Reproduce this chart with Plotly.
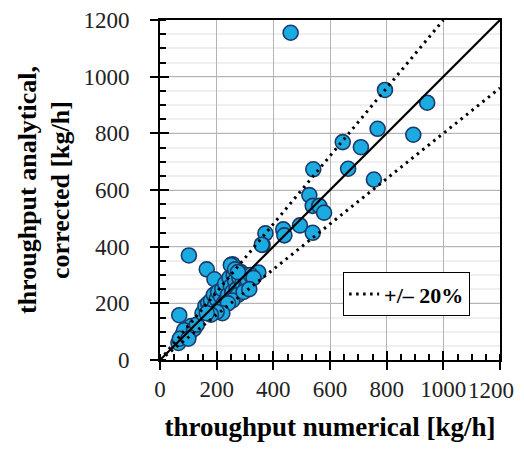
import plotly.graph_objects as go

# numerical throughput [kg/h]
x_num = [461, 794, 943, 768, 894, 645, 709, 541, 664, 755, 527, 539, 562, 579,
         494, 435, 439, 372, 539, 362, 102, 165, 256, 192, 68, 359, 347,
         65, 75, 80, 90, 95, 100, 105, 110, 85, 70, 120, 130, 100,
         150, 160, 170, 175, 180, 185, 190, 195, 200, 205, 210, 215, 220, 225,
         230, 235, 240, 245, 250, 255, 260, 265, 270, 275, 280, 285, 290, 300,
         305, 310, 320, 330, 250, 255, 265, 275, 240, 220, 200, 180, 165, 295, 315]
# analytical throughput, corrected [kg/h]
y_ana = [1155, 953, 908, 816, 795, 769, 751, 673, 675, 637, 582, 544, 544, 520,
         475, 461, 440, 447, 449, 406, 369, 320, 338, 285, 158, 407, 309,
         60, 80, 90, 85, 100, 110, 95, 120, 105, 75, 110, 125, 75,
         165, 190, 200, 180, 210, 175, 230, 195, 215, 240, 180, 225, 250, 200,
         270, 215, 230, 290, 260, 240, 300, 280, 250, 230, 290, 310, 270, 300,
         260, 280, 300, 290, 335, 210, 320, 310, 200, 165, 170, 160, 165, 240, 250]

diag = [0, 1200]
upper_x = [0, 1000]
upper_y = [0, 1200]
lower_x = [0, 1200]
lower_y = [0, 960]
ticks = [0, 200, 400, 600, 800, 1000, 1200]
x_ticktext = ["0", "200", "400", "600", "800", "1000", ""]
last_x_label = "1200"

FONT = "Liberation Serif"

fig = go.Figure()
fig.add_trace(go.Scatter(
    x=x_num, y=y_ana, mode="markers", showlegend=False,
    marker=dict(size=15, color="#1aace0", line=dict(color="#1b3a6b", width=1.6)),
))
fig.add_trace(go.Scatter(
    x=upper_x, y=upper_y, mode="lines", name="<b>+/– 20%</b>", legendgroup="pm",
    line=dict(color="black", width=3, dash="2.5px,4.5px"),
))
fig.add_trace(go.Scatter(
    x=lower_x, y=lower_y, mode="lines", showlegend=False, legendgroup="pm",
    line=dict(color="black", width=3, dash="2.5px,4.5px"),
))
fig.add_trace(go.Scatter(
    x=diag, y=diag, mode="lines", showlegend=False,
    line=dict(color="black", width=2.2),
))
# invisible trace for tick overlay axes
fig.add_trace(go.Scatter(x=[0], y=[0], xaxis="x2", yaxis="y2", mode="markers",
                         marker=dict(opacity=0), showlegend=False, hoverinfo="skip"))

tickfont = dict(family=FONT, size=23, color="#222")
fig.update_layout(
    width=516, height=440,
    margin=dict(l=152, r=24, t=12, b=88),
    paper_bgcolor="white", plot_bgcolor="white",
    font=dict(family=FONT, color="black"),
    xaxis=dict(
        range=[0, 1200], tickvals=ticks, ticktext=x_ticktext,
        automargin=False, ticklabeloverflow="allow",
        ticks="outside", ticklen=8, tickwidth=2, tickcolor="black",
        showline=True, linecolor="black", linewidth=2, mirror=True,
        showgrid=True, gridcolor="#b4b4b4", gridwidth=1,
        zeroline=False, tickfont=tickfont, ticklabelstandoff=-1,
        minor=dict(dtick=50, ticks="inside", ticklen=6, tickwidth=1.5,
                   tickcolor="black", showgrid=False),
        title=dict(text="<b>throughput numerical [kg/h]</b>",
                   font=dict(family=FONT, size=27, color="black"), standoff=17),
    ),
    yaxis=dict(
        range=[0, 1200], tickvals=ticks, automargin=False,
        ticks="outside", ticklen=8, tickwidth=2, tickcolor="black",
        showline=True, linecolor="black", linewidth=2, mirror=True,
        showgrid=True, gridcolor="#b4b4b4", gridwidth=1,
        zeroline=False, tickfont=tickfont, ticklabelstandoff=16,
        minor=dict(dtick=50, ticks="inside", ticklen=6, tickwidth=1.5,
                   tickcolor="black", showgrid=True, gridcolor="#efefef", gridwidth=1.5),
        title=dict(text="<b>throughput analytical,<br>corrected [kg/h]</b>",
                   font=dict(family=FONT, size=26, color="black"), standoff=6),
    ),
    xaxis2=dict(range=[0, 1200], overlaying="x", tickvals=ticks, automargin=False,
                ticks="inside", ticklen=9, tickwidth=2, tickcolor="black",
                showticklabels=False, showgrid=False, zeroline=False, showline=False),
    yaxis2=dict(range=[0, 1200], overlaying="y", tickvals=ticks, automargin=False,
                ticks="inside", ticklen=9, tickwidth=2, tickcolor="black",
                showticklabels=False, showgrid=False, zeroline=False, showline=False),
    legend=dict(x=0.538, y=0.259, xanchor="left", yanchor="top",
                bgcolor="white", bordercolor="black", borderwidth=1.2,
                font=dict(family=FONT, size=22, color="black"),
                itemwidth=30, tracegroupgap=0),
)
fig.add_annotation(
    x=ticks[-1], y=0, xref="x", yref="y", text=last_x_label, showarrow=False,
    xanchor="right", yanchor="middle", xshift=16, yshift=-30,
    font=tickfont,
)

fig.write_html("out.html")
